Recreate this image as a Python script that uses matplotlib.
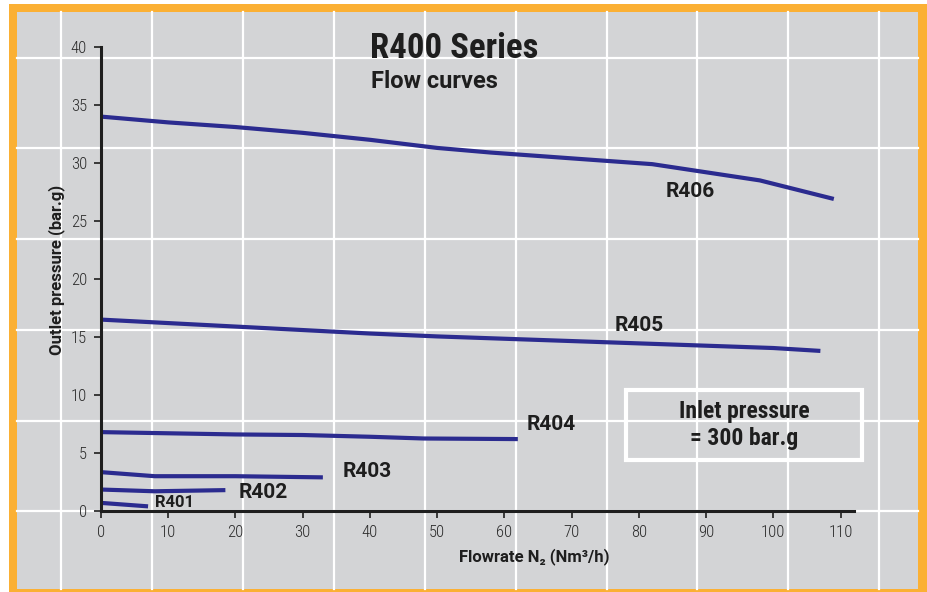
import matplotlib
matplotlib.use("Agg")
import matplotlib.pyplot as plt
from matplotlib.patches import Rectangle
from matplotlib.lines import Line2D

# curve data: flowrate (Nm3/h) vs outlet pressure (bar.g)
r406_x = [0, 10, 20, 30, 40, 50, 58, 70, 82, 98, 109]
r406_y = [34.0, 33.5, 33.1, 32.6, 32.0, 31.3, 30.9, 30.4, 29.9, 28.5, 26.9]
r405_x = [0, 10, 20, 30, 40, 50, 60, 70, 80, 90, 100, 107]
r405_y = [16.5, 16.2, 15.9, 15.6, 15.3, 15.05, 14.85, 14.65, 14.45, 14.25, 14.05, 13.8]
r404_x = [0, 10, 20, 30, 40, 48, 62]
r404_y = [6.8, 6.7, 6.6, 6.55, 6.4, 6.25, 6.2]
r403_x = [0, 8, 20, 33]
r403_y = [3.35, 3.0, 3.0, 2.9]
r402_x = [0, 8, 18.5]
r402_y = [1.85, 1.7, 1.8]
r401_x = [0, 7]
r401_y = [0.7, 0.4]

series = [
    ("R406", r406_x, r406_y, (87.6, 27.5), 15),
    ("R405", r405_x, r405_y, (80.0, 16.0), 15),
    ("R404", r404_x, r404_y, (67.0, 7.5), 15),
    ("R403", r403_x, r403_y, (39.6, 3.4), 15),
    ("R402", r402_x, r402_y, (24.1, 1.6), 15),
    ("R401", r401_x, r401_y, (11.0, 0.75), 12),
]
x_ticks = list(range(0, 111, 10))
y_ticks = list(range(0, 41, 5))

W, H = 928, 592
COND = ["Roboto Condensed", "DejaVu Sans"]
WIDE = ["Roboto", "DejaVu Sans"]  # stands in for the letter-spaced condensed type
LINE_COLOR = "#2b2b8f"
TEXT_COLOR = "#1e1e1e"

fig = plt.figure(figsize=(W / 100, H / 100), dpi=100, facecolor="white")


def fx(px):
    return px / W


def fy(py):
    return 1 - py / H


# orange frame and grey panel
fig.patches.append(Rectangle((fx(9), fy(592)), fx(918), 588 / H, transform=fig.transFigure,
                             facecolor="#fbb034", edgecolor="none", zorder=-3))
fig.patches.append(Rectangle((fx(17), fy(589)), fx(901), 577 / H, transform=fig.transFigure,
                             facecolor="#d3d4d6", edgecolor="none", zorder=-2))

# decorative background grid (not tied to data)
for px in [61, 152, 243, 334, 425, 516, 607, 697, 788, 879]:
    fig.lines.append(Line2D([fx(px), fx(px)], [fy(589), fy(12)], transform=fig.transFigure,
                            color="white", lw=1.6, zorder=-1))
for py in [58, 148, 239, 330, 421, 511]:
    fig.lines.append(Line2D([fx(17), fx(918)], [fy(py), fy(py)], transform=fig.transFigure,
                            color="white", lw=1.6, zorder=-1))

# axes: x=0 at px 101, x=112 at px 854; y=0 at px 511, y=40 at px 47
ax = fig.add_axes([fx(101), fy(511), (854 - 101) / W, (511 - 47) / H])
ax.set_facecolor("none")
ax.set_xlim(0, 112)
ax.set_ylim(0, 40)

for name, xs, ys, (lx, ly), fs in series:
    ax.plot(xs, ys, color=LINE_COLOR, lw=3.0, solid_capstyle="butt", clip_on=False)
    ax.text(lx, ly, name, fontsize=fs, fontweight="bold", color=TEXT_COLOR,
            ha="center", va="center", family=WIDE)

for side in ["top", "right"]:
    ax.spines[side].set_visible(False)
for side in ["left", "bottom"]:
    ax.spines[side].set_linewidth(2.2)
    ax.spines[side].set_color("#1e1e1e")

ax.set_xticks(x_ticks)
ax.set_yticks(y_ticks)
ax.tick_params(axis="both", direction="out", length=5, width=1.2, color="#1e1e1e",
               labelsize=12, labelcolor="#2a2a2a", pad=5)
for lab in ax.get_xticklabels() + ax.get_yticklabels():
    lab.set_family(COND)
    lab.set_fontweight("light")

ax.set_xlabel("Flowrate N\u2082 (Nm\u00b3/h)", fontsize=12, fontweight="bold", color=TEXT_COLOR,
              family=WIDE)
ax.set_ylabel("Outlet pressure (bar.g)", fontsize=12, fontweight="bold", color=TEXT_COLOR,
              family=WIDE)
ax.xaxis.set_label_coords(0.576, -0.08)
ax.yaxis.set_label_coords(-0.048, 0.52)

# titles
fig.text(fx(370), fy(48), "R400 Series", fontsize=25, fontweight="bold", color=TEXT_COLOR,
         family=COND, ha="left", va="center")
fig.text(fx(371), fy(82), "Flow curves", fontsize=17, fontweight="bold", color=TEXT_COLOR,
         family=WIDE, ha="left", va="center")

# inlet pressure box
fig.patches.append(Rectangle((fx(626), fy(460)), (862 - 626) / W, 70 / H, transform=fig.transFigure,
                             facecolor="none", edgecolor="white", lw=3))
fig.text(fx(744), fy(425), "Inlet pressure\n= 300 bar.g", fontsize=17, fontweight="bold",
         color=TEXT_COLOR, family=COND, ha="center", va="center", linespacing=1.2)

fig.savefig("out.png", dpi=100, facecolor=fig.get_facecolor())
